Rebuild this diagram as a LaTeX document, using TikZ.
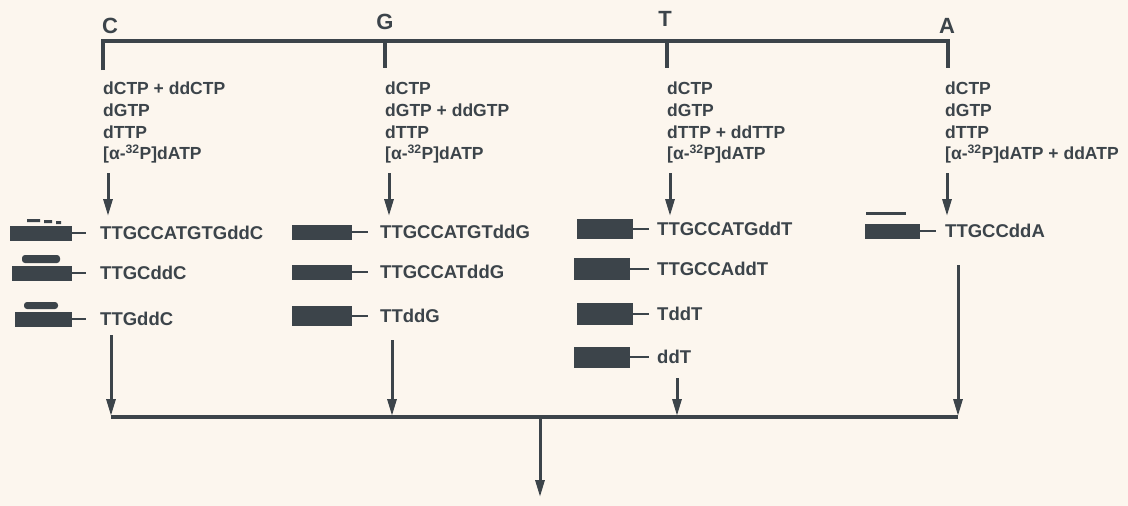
\documentclass[tikz,border=0pt]{standalone}
\usepackage{fontspec}
\setmainfont{Liberation Sans}
\usetikzlibrary{arrows.meta}
\definecolor{ink}{RGB}{60,68,74}
\definecolor{paper}{RGB}{252,246,238}
\tikzset{
  wire/.style={draw=ink, line width=3.4pt},
  flow/.style={draw=ink, line width=3pt, -{Triangle[width=9pt,length=17pt]}},
  lane/.style={font=\bfseries\fontsize{22}{22}\selectfont, text=ink, inner sep=0pt, anchor=base},
  mix/.style={font=\bfseries\fontsize{17.5}{21.7}\selectfont, text=ink, align=left, anchor=north west, inner sep=0pt},
  band/.style={fill=ink, draw=none, minimum height=15pt, inner sep=0pt, anchor=east},
  frag/.style={font=\bfseries\fontsize{18.5}{20}\selectfont, text=ink, inner sep=0pt, anchor=west},
  tie/.style={draw=ink, line width=2.4pt},
  smear/.style={fill=ink, draw=none},
}
\begin{document}
\begin{tikzpicture}[x=1pt,y=-1pt]
  \fill[paper] (0,0) rectangle (1128,506);
  \useasboundingbox (0,0) rectangle (1128,506);

  % lane letters
  \node[lane] (lc) at (110,33) {C};
  \node[lane] (lg) at (385,29) {G};
  \node[lane] (lt) at (665,27) {T};
  \node[lane] (la) at (947,33) {A};

  % splitting bar at the top
  \coordinate (tc) at (103,70);
  \coordinate (tg) at (385,68);
  \coordinate (tt) at (667,68);
  \coordinate (ta) at (948,68);
  \coordinate (tgtop) at (385,41);
  \coordinate (tttop) at (667,41);
  \draw[wire] (tc) |- (ta |- tgtop) -- (ta);
  \draw[wire] (tgtop) -- (tg);
  \draw[wire] (tttop) -- (tt);

  % reaction mixes
  \node[mix] (mc) at (103,82) {dCTP + ddCTP\\dGTP\\dTTP\\{[}α-\textsuperscript{32}P{]}dATP};
  \node[mix] (mg) at (385,82) {dCTP\\dGTP + ddGTP\\dTTP\\{[}α-\textsuperscript{32}P{]}dATP};
  \node[mix] (mt) at (667,82) {dCTP\\dGTP\\dTTP + ddTTP\\{[}α-\textsuperscript{32}P{]}dATP};
  \node[mix] (ma) at (945,82) {dCTP\\dGTP\\dTTP\\{[}α-\textsuperscript{32}P{]}dATP + ddATP};

  % arrows from the mixes to the products
  \coordinate (ci) at (108,173); \coordinate (co) at (108,216);
  \coordinate (gi) at (389,173); \coordinate (go) at (389,216);
  \coordinate (ti) at (670,173); \coordinate (to) at (670,216);
  \coordinate (ai) at (947,173); \coordinate (ao) at (947,216);
  \draw[flow] (ci) -- (co);
  \draw[flow] (gi) -- (go);
  \draw[flow] (ti) -- (to);
  \draw[flow] (ai) -- (ao);

  % C lane products
  \node[band, minimum width=62pt] (c1) at (72,233) {};
  \node[band, minimum width=60pt] (c2) at (72,273) {};
  \node[band, minimum width=57pt] (c3) at (72,319) {};
  \fill[smear] (27,219) rectangle (40,222) (44,220) rectangle (52,223) (56,221) rectangle (61,224);
  \fill[smear, rounded corners=3pt] (22,255) rectangle (60,263);
  \fill[smear, rounded corners=3pt] (24,302) rectangle (58,309);
  \node[frag] (c1t) at (100,233) {TTGCCATGTGddC};
  \node[frag] (c2t) at (100,273) {TTGCddC};
  \node[frag] (c3t) at (100,319) {TTGddC};
  \foreach \b in {c1,c2,c3} \draw[tie, shorten >=14pt] (\b) -- (\b t);

  % G lane products
  \node[band, minimum width=60pt] (g1) at (352,232) {};
  \node[band, minimum width=60pt] (g2) at (352,272) {};
  \node[band, minimum width=60pt, minimum height=20pt] (g3) at (352,316) {};
  \node[frag] (g1t) at (380,232) {TTGCCATGTddG};
  \node[frag] (g2t) at (380,272) {TTGCCATddG};
  \node[frag] (g3t) at (380,316) {TTddG};
  \foreach \b in {g1,g2,g3} \draw[tie, shorten >=12pt] (\b) -- (\b t);

  % T lane products
  \node[band, minimum width=56pt, minimum height=20pt] (t1) at (633,229) {};
  \node[band, minimum width=56pt, minimum height=22pt] (t2) at (630,269) {};
  \node[band, minimum width=56pt, minimum height=22pt] (t3) at (633,314) {};
  \node[band, minimum width=56pt, minimum height=21pt] (t4) at (630,357) {};
  \node[frag] (t1t) at (657,229) {TTGCCATGddT};
  \node[frag] (t2t) at (657,269) {TTGCCAddT};
  \node[frag] (t3t) at (657,314) {TddT};
  \node[frag] (t4t) at (657,357) {ddT};
  \foreach \b in {t1,t2,t3,t4} \draw[tie, shorten >=8pt] (\b) -- (\b t);

  % A lane product
  \node[band, minimum width=55pt] (a1) at (920,231) {};
  \fill[smear] (866,212) rectangle (906,215);
  \node[frag] (a1t) at (945,231) {TTGCCddA};
  \draw[tie, shorten >=9pt] (a1) -- (a1t);

  % pooling bar and output
  \coordinate (bc) at (111,417);
  \coordinate (bg) at (392,417);
  \coordinate (bt) at (677,417);
  \coordinate (ba) at (958,417);
  \coordinate (bm) at (540,417);
  \coordinate (out) at (540,497);
  \coordinate (cd) at (111,335);
  \coordinate (gd) at (392,340);
  \coordinate (td) at (677,378);
  \coordinate (ad) at (958,265);
  \draw[flow, shorten >=1pt] (cd) -- (bc);
  \draw[flow, shorten >=1pt] (gd) -- (bg);
  \draw[flow, shorten >=1pt] (td) -- (bt);
  \draw[flow, shorten >=1pt] (ad) -- (ba);
  \draw[wire] (bc) -- (ba);
  \draw[flow] (bm) -- (out);
\end{tikzpicture}
\end{document}
